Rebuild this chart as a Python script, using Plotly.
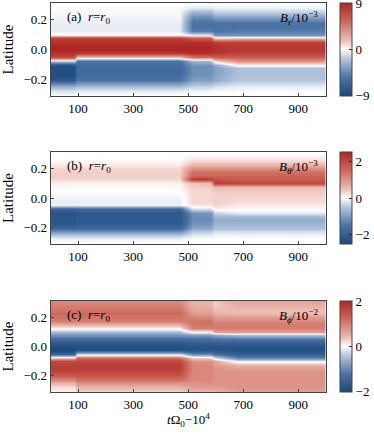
import numpy as np
import plotly.graph_objects as go

# latitude grid (rows) and time columns
lat = [-0.3, -0.275, -0.25, -0.225, -0.2, -0.175, -0.15, -0.125, -0.1, -0.075, -0.05, -0.025,
       0.0, 0.025, 0.05, 0.075, 0.1, 0.125, 0.15, 0.175, 0.2, 0.225, 0.25, 0.275, 0.3]
t_cols = [0, 86, 94, 470, 515, 580, 595, 680, 1000]
regime = [0, 0, 1, 1, 2, 2, 3, 4, 4]

# B_r / 1e-3 profiles (south -> north) for each regime
br = [
    [-0.2, -0.8, -2.5, -5, -7.5, -8.5, -8.5, -8.5, -8, -1.5, 7, 8.5,
     9, 9, 8.5, 7.5, 0.4, -0.6, -0.6, -0.5, -0.4, -0.3, -0.2, -0.1, 0],
    [-0.1, -0.5, -2, -4, -5.5, -6, -6.2, -6.2, -6, -5.5, 2, 8,
     9, 9, 8.5, 7.5, 0.4, -0.6, -0.6, -0.5, -0.4, -0.3, -0.2, -0.1, 0],
    [0, -0.3, -1.2, -2.5, -3.5, -4, -4.2, -4.2, -4, -2.5, 5, 8.5,
     9, 9, 8.5, 6, -0.5, -5, -5.5, -5.5, -5, -4, -2.5, -0.8, -0.2],
    [0, -0.2, -0.8, -2, -3, -3.3, -3.5, -3.5, -3, 1, 6, 8,
     8.5, 8.5, 7.5, 1, -4, -5.5, -5.5, -5.5, -4.5, -3, -1.5, -0.5, -0.1],
    [0, -0.1, -0.5, -1.2, -1.8, -2, -2, -2, 0.3, 3.5, 6, 7.5,
     8, 8, 7.5, 1.5, -4, -5, -5.5, -5.5, -4.5, -3, -1.5, -0.5, -0.1],
]

# B_theta / 1e-3
bt = [
    [0, -0.1, -0.5, -1.2, -1.8, -2.1, -2.2, -2.2, -2.2, -1.9, -0.1, -0.15,
     -0.1, -0.05, 0, 0.05, 0.1, 0.3, 0.35, 0.35, 0.3, 0.15, 0.05, 0, 0],
    [0, -0.1, -0.5, -1.2, -1.8, -2.0, -2.1, -2.1, -2.1, -1.8, -0.1, -0.15,
     -0.1, -0.05, 0, 0.05, 0.1, 0.3, 0.35, 0.35, 0.3, 0.15, 0.05, 0, 0],
    [0, 0, -0.2, -0.5, -0.9, -1.1, -1.2, -1.2, -1.1, -0.3, 0.2, 0.3,
     0.3, 0.3, 0.3, 0.35, 0.5, 2.2, 1.6, 1.4, 1.0, 0.6, 0.3, 0.1, 0],
    [0, 0, -0.1, -0.3, -0.6, -0.7, -0.8, -0.7, -0.4, 0.1, 0.3, 0.35,
     0.35, 0.35, 0.4, 0.5, 2.2, 1.8, 1.6, 1.4, 1.0, 0.6, 0.3, 0.1, 0],
    [0, 0, -0.1, -0.3, -0.6, -0.7, -0.8, -0.7, -0.2, 0.05, 0.15, 0.25,
     0.3, 0.35, 0.4, 0.5, 2.0, 1.7, 1.6, 1.4, 1.0, 0.6, 0.3, 0.1, 0],
]

# B_phi / 1e-2
bp = [
    [0.1, 0.2, 0.5, 0.9, 1.3, 1.6, 1.7, 1.7, 1.6, 0.4, -1.5, -2.0,
     -1.9, -1.7, -1.3, -0.9, -0.5, 0.1, 0.6, 1.0, 1.1, 1.2, 1.1, 1.0, 0.9],
    [0.3, 0.5, 0.8, 1.1, 1.4, 1.6, 1.7, 1.7, 1.6, 1.2, -0.3, -1.8,
     -1.9, -1.7, -1.3, -0.9, -0.5, 0.1, 0.6, 1.0, 1.1, 1.2, 1.1, 1.0, 0.9],
    [0.5, 0.7, 0.8, 0.9, 0.9, 0.9, 0.9, 0.9, 0.8, 0.3, -1.0, -1.8,
     -1.8, -1.6, -1.3, -0.8, 0.0, 1.0, 1.1, 1.1, 0.9, 0.7, 0.6, 0.5, 0.5],
    [0.5, 0.7, 0.8, 0.8, 0.8, 0.8, 0.8, 0.7, 0.6, -0.2, -1.3, -1.8,
     -1.8, -1.6, -1.2, -0.7, 0.6, 1.0, 1.0, 0.9, 0.7, 0.5, 0.4, 0.3, 0.3],
    [0.7, 0.8, 0.8, 0.8, 0.8, 0.8, 0.7, 0.5, -0.1, -1.0, -1.6, -1.8,
     -1.8, -1.6, -1.2, -0.5, 0.7, 1.0, 1.0, 0.9, 0.7, 0.4, 0.4, 0.5, 0.6],
]

panel_tags = ["(a)", "(b)", "(c)"]
field_labels = ["<i>B<sub>r</sub></i>/10<sup>\u22123</sup>",
                "<i>B<sub>\u03b8</sub></i>/10<sup>\u22123</sup>",
                "<i>B<sub>\u03d5</sub></i>/10<sup>\u22122</sup>"]
cranges = [9.02, 2.5, 2.005]
cticks = [[-9, 0, 9], [-2, 0, 2], [-2, 0, 2]]

cmap = [[0, "rgb(28,72,125)"], [0.2, "rgb(75,115,165)"], [0.4, "rgb(180,198,222)"],
        [0.5, "rgb(255,255,255)"], [0.6, "rgb(236,188,178)"], [0.8, "rgb(205,105,90)"],
        [1, "rgb(176,38,36)"]]

W, H = 374, 434
x0, x1 = 51 / W, 328.5 / W
rows_px = [(3, 96), (152, 244), (301, 392)]
font = "Liberation Serif, Times New Roman, serif"

fig = go.Figure()
for k, prof in enumerate([br, bt, bp]):
    z = np.array([prof[r] for r in regime]).T
    top, bot = rows_px[k]
    yd = [1 - bot / H, 1 - top / H]
    xa = "x" if k == 0 else f"x{k+1}"
    ya = "y" if k == 0 else f"y{k+1}"
    fig.add_trace(go.Heatmap(
        x=t_cols, y=lat, z=z, xaxis=xa, yaxis=ya,
        zsmooth="best", colorscale=cmap, zmin=-cranges[k], zmax=cranges[k],
        hoverinfo="skip",
        colorbar=dict(x=343 / W, xanchor="left", thickness=12, thicknessmode="pixels",
                      len=(bot - top) / H, lenmode="fraction", y=(yd[0] + yd[1]) / 2,
                      yanchor="middle", xpad=0, ypad=0, outlinecolor="#444", outlinewidth=1,
                      tickvals=cticks[k], ticks="inside", ticklen=3, tickcolor="#222",
                      ticklabeloverflow="allow",
                      tickfont=dict(family=font, size=13, color="black")),
    ))
    axk = "" if k == 0 else str(k + 1)
    fig.layout["xaxis" + axk] = dict(
        domain=[x0, x1], anchor=ya, range=[0, 1000], tickvals=[100, 300, 500, 700, 900],
        ticks="inside", ticklen=3, showline=True, mirror=True, linecolor="#444",
        linewidth=1, showgrid=False, zeroline=False,
        tickfont=dict(family=font, size=13, color="black"),
    )
    fig.layout["yaxis" + axk] = dict(
        domain=yd, anchor=xa, range=[-0.31, 0.31], tickvals=[-0.2, 0.0, 0.2],
        tickformat=".1f", ticks="inside", ticklen=3, showline=True, mirror=True,
        linecolor="#444", linewidth=1, showgrid=False, zeroline=False,
        tickfont=dict(family=font, size=13, color="black"),
        title=dict(text="Latitude", font=dict(family=font, size=15, color="black"), standoff=6),
    )
    fig.add_annotation(xref="paper", yref="paper", x=66 / W, y=1 - (top + 14) / H,
                       xanchor="left", yanchor="middle", showarrow=False,
                       text="%s  <i>r</i>=<i>r</i><sub>0</sub>" % panel_tags[k],
                       font=dict(family=font, size=13, color="black"))
    fig.add_annotation(xref="paper", yref="paper", x=323 / W, y=1 - (top + 15) / H,
                       xanchor="right", yanchor="middle", showarrow=False,
                       text=field_labels[k],
                       font=dict(family=font, size=13, color="black"))

fig.add_annotation(xref="paper", yref="paper", x=(x0 + x1) / 2, y=1 - 420 / H,
                   xanchor="center", yanchor="middle", showarrow=False,
                   text="<i>t</i>\u03a9<sub>0</sub>\u221210<sup>4</sup>",
                   font=dict(family=font, size=13, color="black"))

fig.update_layout(width=W, height=H, margin=dict(l=0, r=0, t=0, b=0),
                  paper_bgcolor="white", plot_bgcolor="white", showlegend=False)

fig.write_html("out.html", config={"displayModeBar": False},
               post_script="document.body.style.margin='0';")
